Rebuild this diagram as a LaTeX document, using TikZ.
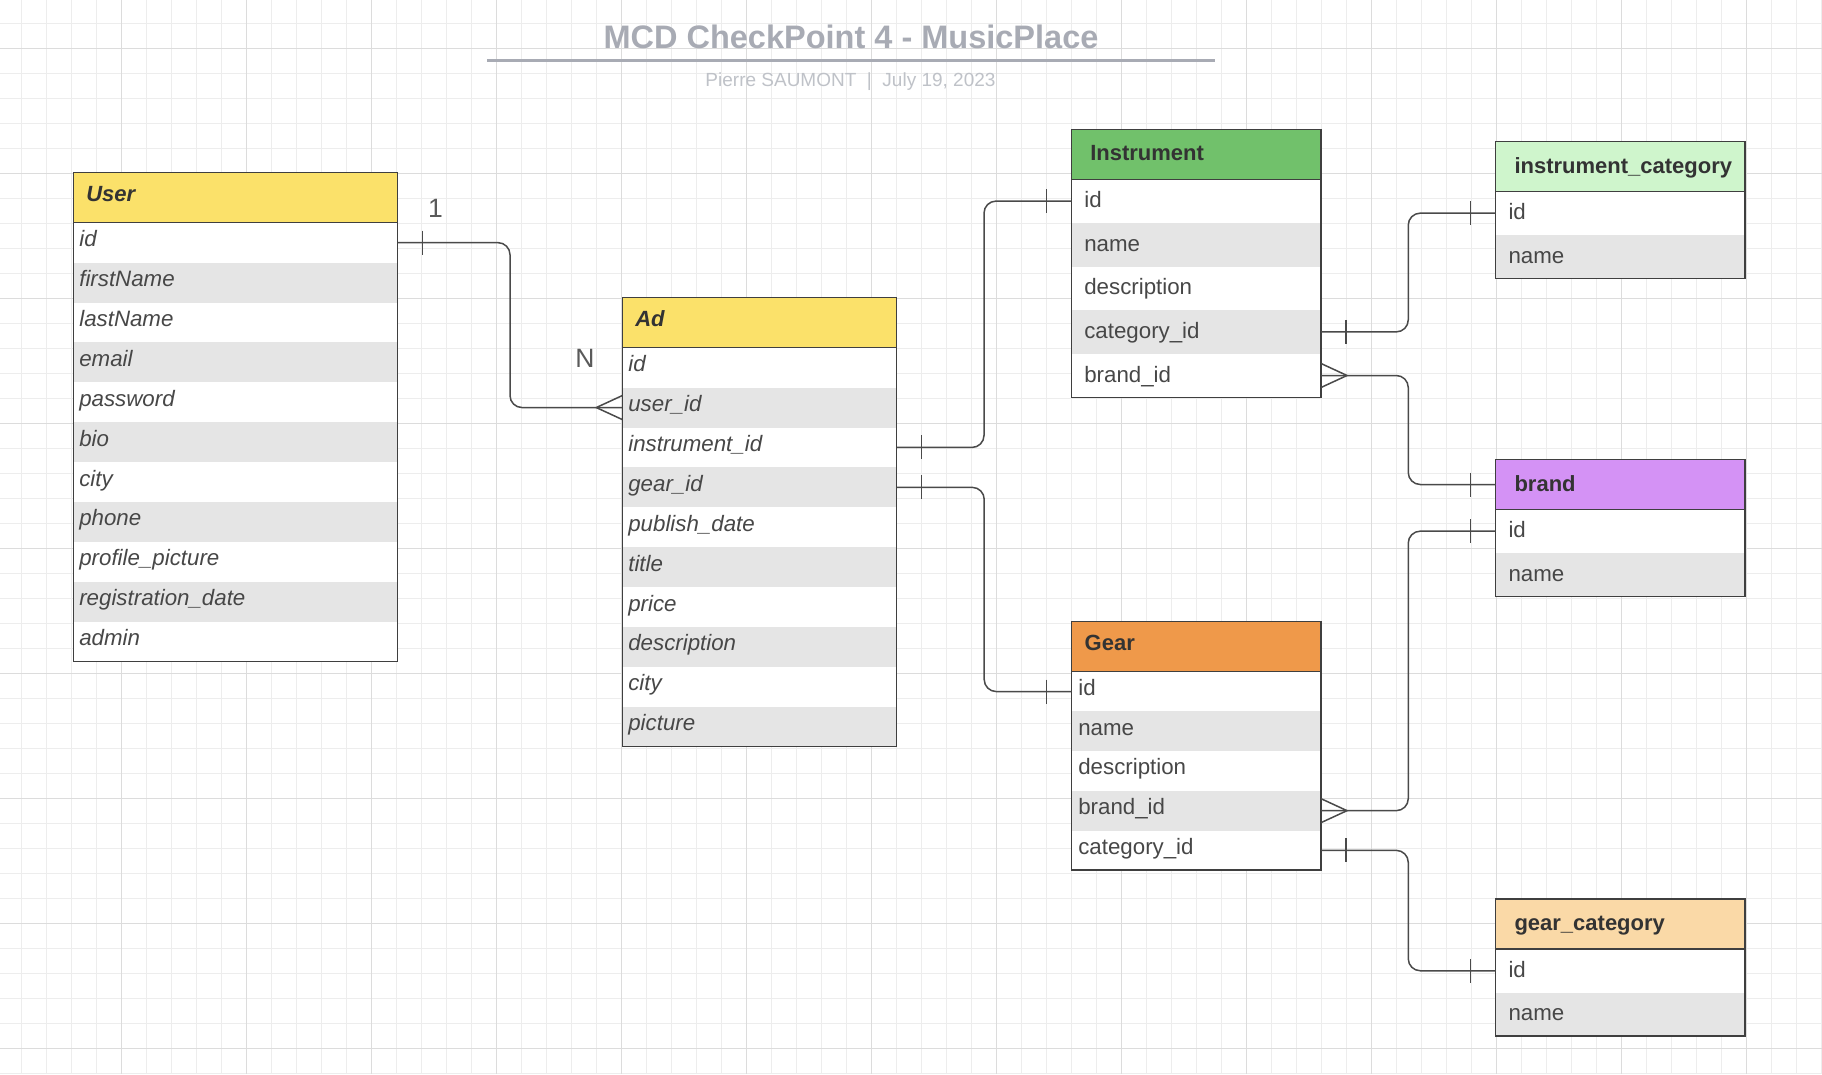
\documentclass[tikz,border=0pt]{standalone}
\usepackage{fontspec}
\setmainfont{Liberation Sans}
\usetikzlibrary{calc}
\definecolor{gridminor}{HTML}{EDEDED}
\definecolor{gridmajor}{HTML}{DCDCDC}
\definecolor{titlegrey}{HTML}{A8ABB4}
\definecolor{subgrey}{HTML}{BFC2C8}
\definecolor{rowgrey}{HTML}{E5E5E5}
\definecolor{edge}{HTML}{3F3F3F}
\definecolor{linecol}{HTML}{4A4A4A}
\definecolor{txt}{HTML}{474747}
\definecolor{htxt}{HTML}{333333}
\definecolor{uyellow}{HTML}{FBE16A}
\definecolor{igreen}{HTML}{71C16B}
\definecolor{lgreen}{HTML}{CFF5CC}
\definecolor{bpurple}{HTML}{D492F5}
\definecolor{gorange}{HTML}{EF994A}
\definecolor{lorange}{HTML}{FAD9A7}

\newcommand\fieldrows[8]{% #1 name, #2 x, #3 y0, #4 w, #5 row h, #6 inset, #7 style, #8 fields
  \foreach \f [count=\i] in {#8} {
    \pgfmathsetmacro\yy{#3+(\i-0.5)*#5}
    \pgfmathsetmacro\tw{#4-2*#6}
    \ifodd\i\relax \def\rf{white}\else \def\rf{rowgrey}\fi
    \node[cell,#7,fill=\rf,minimum width=#4pt,minimum height=#5pt,text width=\tw pt,inner xsep=#6pt,anchor=west] (#1-\i) at (#2,\yy) {\f};
  }
}
\newcommand\tabhead[8]{% #1 name, #2 x, #3 top, #4 w, #5 h, #6 inset, #7 style, #8 title
  \pgfmathsetmacro\tw{#4-2*#6}
  \node[cell,#7,minimum width=#4pt,minimum height=#5pt,text width=\tw pt,inner xsep=#6pt,anchor=north west] (#1) at (#2,#3) {#8};
}

\begin{document}
\begin{tikzpicture}[x=1pt,y=-1pt,
  cell/.style={rectangle,inner ysep=0pt,outer sep=0pt,align=left,text=txt,font=\fontsize{22.3}{26}\selectfont},
  compact/.style={text height=15pt,text depth=7pt},
  wide/.style={text height=16pt,text depth=3pt},
  hd/.style={text=htxt,font=\fontsize{22}{26}\selectfont\bfseries},
  hdit/.style={text=htxt,font=\fontsize{22}{26}\selectfont\bfseries\itshape},
  ital/.style={font=\fontsize{22.3}{26}\selectfont\itshape},
  boxline/.style={draw=edge,line width=1.5pt},
  conn/.style={draw=linecol,line width=1.5pt,rounded corners=12pt},
  cbar/.style={draw=linecol,line width=1.5pt},
  card/.style={text=txt!90,font=\fontsize{26.5}{30}\selectfont,inner sep=0pt,anchor=base}
]
\useasboundingbox (0,0) rectangle (1822,1074);
\fill[white] (0,0) rectangle (1822,1074);
% grid
\foreach \k in {0,...,72} {\draw[gridminor,line width=1pt] ({21.7+25*\k},0) -- ++(0,1074);}
\foreach \k in {0,...,42} {\draw[gridminor,line width=1pt] (0,{23.3+25*\k}) -- ++(1822,0);}
\foreach \k in {0,...,13} {\draw[gridmajor,line width=1.2pt] ({121.7+125*\k},0) -- ++(0,1074);}
\foreach \k in {0,...,8} {\draw[gridmajor,line width=1.2pt] (0,{48.3+125*\k}) -- ++(1822,0);}

% title
\node[text=titlegrey,font=\fontsize{32.5}{36}\selectfont\bfseries,anchor=base,inner sep=0pt] (title) at (851,48.3) {MCD CheckPoint 4 - MusicPlace};
\coordinate (ulL) at (487,60.3);
\coordinate (ulR) at (1215.4,60.3);
\draw[titlegrey,line width=2.5pt] (ulL) -- (ulR);
\node[text=subgrey,font=\fontsize{19}{22}\selectfont,anchor=base,inner sep=0pt] (subtitle) at (850.5,86) {Pierre SAUMONT\ \ |\ \ July 19, 2023};

% User
\tabhead{User}{73.3}{172.7}{324.4}{50}{13}{compact,hdit,fill=uyellow}{User}
\fieldrows{User}{73.3}{222.7}{324.4}{39.9}{6}{compact,ital}{id,firstName,lastName,email,password,bio,city,phone,profile\_picture,registration\_date,admin}
\draw[boxline] (User.north west) rectangle (User-11.south east);
\draw[boxline] (User.south west) -- (User.south east);

% Ad
\tabhead{Ad}{622.3}{297.3}{274.4}{50.4}{13}{compact,hdit,fill=uyellow}{Ad}
\fieldrows{Ad}{622.3}{347.7}{274.4}{39.9}{6}{compact,ital}{id,user\_id,instrument\_id,gear\_id,publish\_date,title,price,description,city,picture}
\draw[boxline] (Ad.north west) rectangle (Ad-10.south east);
\draw[boxline] (Ad.south west) -- (Ad.south east);

% Instrument
\tabhead{Ins}{1071.3}{129.3}{249.7}{50}{19}{wide,hd,fill=igreen}{Instrument}
\fieldrows{Ins}{1071.3}{179.3}{249.7}{43.6}{13}{wide}{id,name,description,category\_id,brand\_id}
\draw[boxline] (Ins.north west) rectangle (Ins-5.south east);
\draw[boxline] (Ins.south west) -- (Ins.south east);

% instrument_category
\tabhead{Icat}{1495.5}{141.7}{249.5}{49.6}{19}{wide,hd,fill=lgreen}{instrument\_category}
\fieldrows{Icat}{1495.5}{191.3}{249.5}{43.7}{13}{wide}{id,name}
\draw[boxline] (Icat.north west) rectangle (Icat-2.south east);
\draw[boxline] (Icat.south west) -- (Icat.south east);

% brand
\tabhead{Brand}{1495.5}{459.7}{249.5}{49.6}{19}{wide,hd,fill=bpurple}{brand}
\fieldrows{Brand}{1495.5}{509.3}{249.5}{43.7}{13}{wide}{id,name}
\draw[boxline] (Brand.north west) rectangle (Brand-2.south east);
\draw[boxline] (Brand.south west) -- (Brand.south east);

% Gear
\tabhead{Gear}{1071.7}{621.7}{249.3}{50}{13}{compact,hd,fill=gorange}{Gear}
\fieldrows{Gear}{1071.7}{671.7}{249.3}{39.7}{6.6}{compact}{id,name,description,brand\_id,category\_id}
\draw[boxline] (Gear.north west) rectangle (Gear-5.south east);
\draw[boxline] (Gear.south west) -- (Gear.south east);

% gear_category
\tabhead{Gcat}{1495.5}{899}{249.5}{50}{19}{wide,hd,fill=lorange}{gear\_category}
\fieldrows{Gcat}{1495.5}{949}{249.5}{43.5}{13}{wide}{id,name}
\draw[boxline] (Gcat.north west) rectangle (Gcat-2.south east);
\draw[boxline] (Gcat.south west) -- (Gcat.south east);

% connectors
\newcommand\link[2]{\draw[conn] (#1.east) -| ($(#1.east)!0.5!(#2.west)$) |- (#2.west);}
\newcommand\barE[1]{\draw[cbar] ([xshift=25pt,yshift=12pt]#1.east) -- ([xshift=25pt,yshift=-12pt]#1.east);}
\newcommand\barW[1]{\draw[cbar] ([xshift=-25pt,yshift=12pt]#1.west) -- ([xshift=-25pt,yshift=-12pt]#1.west);}
\newcommand\crowE[1]{\draw[cbar] ([yshift=12pt]#1.east) -- ([xshift=26pt]#1.east) -- ([yshift=-12pt]#1.east);}
\newcommand\crowW[1]{\draw[cbar] ([yshift=12pt]#1.west) -- ([xshift=-26pt]#1.west) -- ([yshift=-12pt]#1.west);}

\link{User-1}{Ad-2}   \barE{User-1} \crowW{Ad-2}
\link{Ad-3}{Ins-1}    \barE{Ad-3}   \barW{Ins-1}
\link{Ad-4}{Gear-1}   \barE{Ad-4}   \barW{Gear-1}
\link{Ins-4}{Icat-1}  \barE{Ins-4}  \barW{Icat-1}
\link{Ins-5}{Brand}   \crowE{Ins-5} \barW{Brand}
\link{Gear-4}{Brand-1} \crowE{Gear-4} \barW{Brand-1}
\link{Gear-5}{Gcat-1} \barE{Gear-5} \barW{Gcat-1}

\node[card] (one) at (435.4,217.3) {1};
\node[card] (many) at (585,367.3) {N};
\end{tikzpicture}
\end{document}
